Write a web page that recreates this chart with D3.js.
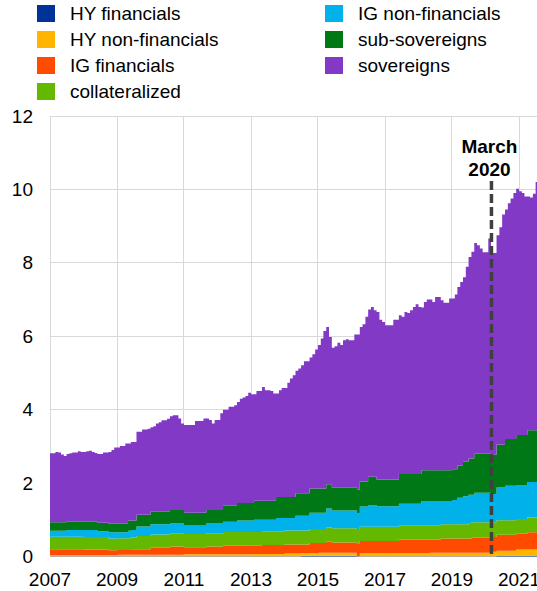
<!DOCTYPE html>
<html>
<head>
<meta charset="utf-8">
<script src="https://cdn.jsdelivr.net/npm/d3@7"></script>
<style>
  body { margin: 0; background: #fff; }
  svg { display: block; font-family: "Liberation Sans", Arial, sans-serif; }
</style>
</head>
<body>
<svg id="chart" width="537" height="591"></svg>
<script>
// monthly holdings, EUR trillions, first value = January 2007
var startMonth = new Date(2007, 0, 1);

var hyFinancials = [
  .01,.01,.01,.01,.01,.01,.01,.01,.01,.01,.01,.01, // 2007
  .01,.01,.01,.01,.01,.01,.01,.01,.01,.01,.01,.01, // 2008
  .01,.01,.01,.01,.01,.01,.01,.01,.01,.01,.01,.01, // 2009
  .01,.01,.01,.01,.01,.01,.01,.01,.01,.01,.01,.01, // 2010
  .01,.01,.01,.01,.01,.01,.01,.01,.01,.01,.01,.01, // 2011
  .01,.01,.01,.01,.01,.01,.01,.01,.01,.01,.01,.01, // 2012
  .01,.01,.01,.01,.01,.01,.01,.01,.01,.01,.01,.01, // 2013
  .01,.01,.01,.01,.01,.01,.02,.02,.02,.02,.02,.02, // 2014
  .02,.02,.02,.02,.02,.02,.02,.02,.02,.02,.02,.02, // 2015
  .02,.02,0,.01,.01,.01,.01,.01,.01,.01,.01,.01,   // 2016
  .01,.01,.01,.01,.01,.01,.01,.01,.01,.01,.01,.01, // 2017
  .01,.01,.01,.01,.01,.01,.01,.01,.01,.01,.01,.01, // 2018
  .01,.01,.01,.01,.01,.01,.01,.01,.01,.01,.01,.01, // 2019
  .01,.01,.01,.01,.02,.02,.02,.02,.02,.02,.02,.02, // 2020
  .02,.02,.02,.02,.02,.02,.02                      // 2021
];

var hyNonFinancials = [
  .03,.03,.03,.03,.03,.03,.03,.03,.03,.03,.03,.03,
  .03,.03,.03,.03,.03,.03,.03,.03,.03,.03,.03,.03,
  .04,.04,.04,.04,.04,.04,.04,.04,.04,.04,.04,.04,
  .04,.04,.04,.04,.04,.04,.04,.04,.04,.04,.04,.04,
  .05,.05,.05,.05,.05,.05,.05,.05,.05,.05,.05,.05,
  .05,.05,.05,.05,.05,.05,.05,.05,.05,.05,.05,.05,
  .06,.06,.06,.06,.06,.06,.06,.06,.06,.06,.06,.06,
  .07,.07,.07,.07,.07,.07,.07,.07,.07,.07,.07,.07,
  .08,.08,.08,.08,.08,.08,.08,.08,.08,.08,.08,.08,
  .08,.08,0,.08,.08,.08,.08,.08,.08,.08,.08,.08,
  .08,.08,.08,.08,.08,.08,.08,.08,.08,.08,.08,.08,
  .08,.08,.08,.08,.09,.09,.09,.09,.09,.09,.09,.09,
  .09,.09,.09,.09,.09,.09,.09,.09,.09,.09,.09,.09,
  .09,.09,.12,.12,.14,.14,.14,.14,.14,.14,.14,.17,
  .17,.17,.17,.17,.17,.17,.17
];

var igFinancials = [
  .16,.16,.16,.16,.16,.16,.16,.16,.16,.16,.16,.16,
  .15,.15,.15,.15,.15,.15,.15,.15,.15,.13,.13,.13,
  .13,.13,.13,.13,.13,.15,.15,.15,.15,.15,.15,.15,
  .19,.19,.19,.19,.19,.19,.19,.22,.22,.22,.22,.22,
  .19,.19,.19,.19,.19,.19,.19,.19,.21,.21,.21,.21,
  .21,.21,.23,.23,.23,.23,.23,.23,.23,.23,.23,.23,
  .22,.22,.22,.22,.24,.24,.24,.24,.24,.24,.24,.24,
  .25,.25,.25,.25,.25,.25,.24,.24,.24,.28,.28,.28,
  .27,.27,.27,.30,.30,.28,.28,.28,.28,.28,.28,.28,
  .28,.28,.36,.33,.33,.33,.33,.33,.33,.33,.33,.33,
  .33,.33,.33,.33,.33,.37,.37,.37,.37,.37,.37,.37,
  .37,.37,.37,.37,.36,.36,.36,.36,.39,.39,.39,.39,
  .39,.39,.39,.39,.39,.39,.39,.41,.41,.41,.41,.41,
  .41,.41,.40,.40,.43,.43,.43,.43,.43,.43,.43,.43,
  .43,.43,.43,.47,.47,.47,.47
];

var collateralized = [
  .34,.34,.34,.34,.34,.34,.34,.34,.34,.34,.34,.34,
  .34,.34,.34,.34,.34,.34,.34,.34,.34,.32,.32,.32,
  .32,.32,.32,.32,.32,.32,.32,.36,.36,.36,.36,.36,
  .36,.36,.36,.36,.36,.36,.36,.36,.36,.36,.36,.36,
  .36,.36,.36,.36,.36,.36,.36,.36,.36,.36,.36,.36,
  .36,.36,.38,.38,.38,.38,.38,.38,.38,.38,.38,.38,
  .38,.38,.38,.38,.38,.38,.38,.38,.38,.38,.38,.38,
  .38,.38,.38,.38,.38,.38,.38,.38,.38,.38,.38,.38,
  .38,.38,.38,.39,.39,.39,.39,.39,.39,.39,.39,.39,
  .39,.39,.36,.39,.39,.39,.39,.39,.39,.39,.39,.39,
  .39,.39,.39,.39,.39,.39,.39,.39,.39,.39,.39,.39,
  .39,.39,.39,.39,.39,.39,.39,.39,.39,.39,.39,.39,
  .39,.39,.39,.39,.39,.39,.42,.42,.42,.42,.42,.42,
  .42,.42,.40,.40,.40,.40,.40,.40,.40,.40,.40,.40,
  .40,.40,.40,.40,.40,.40,.40
];

var igNonFinancials = [
  .16,.16,.16,.16,.16,.16,.18,.18,.18,.18,.18,.18,
  .19,.19,.19,.19,.19,.16,.16,.16,.16,.17,.17,.17,
  .16,.16,.16,.16,.20,.20,.20,.26,.26,.26,.26,.26,
  .28,.28,.28,.28,.28,.28,.28,.27,.27,.27,.27,.27,
  .25,.25,.25,.25,.25,.25,.25,.25,.27,.27,.27,.27,
  .27,.27,.28,.28,.28,.28,.28,.31,.31,.31,.31,.31,
  .31,.33,.33,.33,.31,.31,.31,.31,.31,.36,.36,.36,
  .34,.34,.34,.34,.40,.40,.40,.40,.40,.44,.44,.44,
  .44,.44,.44,.52,.52,.48,.48,.48,.48,.48,.48,.48,
  .48,.48,.46,.55,.55,.55,.59,.59,.59,.56,.56,.56,
  .56,.56,.56,.56,.56,.59,.59,.59,.59,.59,.59,.59,
  .59,.66,.66,.66,.66,.66,.66,.66,.63,.63,.63,.63,
  .66,.66,.72,.72,.76,.76,.77,.75,.81,.81,.81,.81,
  .81,.81,.77,.77,.89,.89,.89,.94,.94,.94,.94,.93,
  .93,.93,.93,.97,.97,.97,.97
];

var subSovereigns = [
  .23,.23,.23,.23,.23,.23,.23,.23,.23,.23,.23,.23,
  .23,.23,.23,.23,.23,.23,.23,.23,.23,.23,.23,.23,
  .23,.23,.23,.23,.28,.26,.26,.32,.32,.32,.32,.32,
  .34,.34,.34,.34,.34,.34,.34,.37,.37,.37,.37,.37,
  .33,.33,.33,.33,.33,.33,.33,.33,.37,.37,.37,.37,
  .37,.37,.43,.43,.43,.43,.43,.48,.48,.48,.48,.48,
  .48,.52,.52,.52,.52,.52,.52,.52,.52,.57,.57,.57,
  .57,.57,.57,.57,.61,.61,.61,.61,.61,.66,.66,.66,
  .66,.66,.66,.66,.66,.62,.62,.62,.62,.62,.62,.62,
  .62,.62,.64,.68,.68,.68,.77,.77,.77,.73,.73,.73,
  .73,.73,.73,.73,.73,.81,.81,.81,.81,.81,.81,.81,
  .81,.84,.84,.84,.84,.84,.84,.84,.84,.84,.84,.84,
  .84,.84,.88,.88,.94,.94,.99,.99,1.06,1.06,1.06,1.06,
  1.06,1.06,1.07,1.07,1.17,1.17,1.17,1.27,1.27,1.27,1.27,1.36,
  1.36,1.36,1.36,1.41,1.41,1.41,1.41
];

var sovereigns = [
  1.88,1.88,1.92,1.90,1.85,1.81,1.84,1.86,1.88,1.88,1.92,1.90,
  1.90,1.92,1.93,1.90,1.87,1.87,1.87,1.91,1.91,1.96,2.01,2.08,
  2.08,2.12,2.12,2.19,2.10,2.14,2.14,2.26,2.26,2.32,2.32,2.34,
  2.30,2.33,2.40,2.44,2.49,2.49,2.53,2.55,2.58,2.58,2.49,2.35,
  2.39,2.39,2.39,2.39,2.50,2.50,2.50,2.57,2.49,2.45,2.35,2.45,
  2.45,2.63,2.62,2.62,2.70,2.70,2.74,2.75,2.84,2.87,2.91,3.00,
  2.96,2.90,2.99,2.99,3.10,3.01,3.01,2.99,2.92,2.82,2.91,2.97,
  2.97,3.11,3.23,3.32,3.34,3.40,3.49,3.60,3.60,3.57,3.66,3.79,
  3.91,4.09,4.29,4.28,4.01,3.82,3.86,3.95,3.89,4.02,4.05,4.02,
  4.02,4.18,4.23,4.21,4.29,4.49,4.56,4.63,4.54,4.56,4.35,4.29,
  4.20,4.20,4.20,4.35,4.35,4.32,4.28,4.41,4.38,4.46,4.55,4.62,
  4.55,4.43,4.58,4.65,4.65,4.58,4.72,4.72,4.63,4.56,4.56,4.68,
  4.65,4.76,4.86,5.00,5.03,5.31,5.49,5.63,5.74,5.68,5.59,5.49,
  5.49,5.86,5.50,5.50,5.70,5.92,6.27,6.25,6.42,6.55,6.70,6.71,
  6.64,6.59,6.50,6.37,6.34,6.44,6.76
];

// stacking order, bottom to top
var seriesKeys = ['hyFin', 'hyNonFin', 'igFin', 'coll', 'igNonFin', 'subSov', 'sov'];
var seriesValues = [hyFinancials, hyNonFinancials, igFinancials, collateralized, igNonFinancials, subSovereigns, sovereigns];
var seriesLabels = ['HY financials', 'HY non-financials', 'IG financials', 'collateralized',
                    'IG non-financials', 'sub-sovereigns', 'sovereigns'];
var seriesColors = ['#003299', '#ffb400', '#ff4b00', '#65b800', '#00b1ea', '#007816', '#8139c6'];

var yTicks = [0, 2, 4, 6, 8, 10, 12];
var xTickYears = [2007, 2009, 2011, 2013, 2015, 2017, 2019, 2021];
var eventDate = new Date(2020, 2, 1);
var eventLabel = ['March', '2020'];

var svg = d3.select('#chart');

var x = d3.scaleTime()
    .domain([startMonth, new Date(2021, 6, 16)])
    .range([50, 537]);
var y = d3.scaleLinear()
    .domain([0, 12])
    .range([556.5, 116]);

function snap(v) { return Math.round(v - 0.5) + 0.5; }

// rows for d3.stack, plus one closing row so the last step has a width
var rows = sovereigns.map(function (v, i) {
    var r = { date: d3.timeMonth.offset(startMonth, i) };
    seriesKeys.forEach(function (k, j) { r[k] = seriesValues[j][i]; });
    return r;
});
var closing = Object.assign({}, rows[rows.length - 1]);
closing.date = d3.timeMonth.offset(startMonth, rows.length);
rows.push(closing);

var stacked = d3.stack().keys(seriesKeys)(rows);

// grid
var grid = svg.append('g').attr('stroke', '#d9d9d9').attr('stroke-width', 1);
grid.selectAll('.h').data(yTicks).enter().append('line')
    .attr('x1', 50).attr('x2', 537)
    .attr('y1', function (d) { return snap(y(d)); })
    .attr('y2', function (d) { return snap(y(d)); });
grid.selectAll('.v').data(xTickYears).enter().append('line')
    .attr('x1', function (d) { return snap(x(new Date(d, 0, 1))); })
    .attr('x2', function (d) { return snap(x(new Date(d, 0, 1))); })
    .attr('y1', y(12)).attr('y2', y(0));

var area = d3.area()
    .curve(d3.curveStepAfter)
    .x(function (d) { return x(d.data.date); })
    .y0(function (d) { return y(d[0]); })
    .y1(function (d) { return y(d[1]); });

svg.append('g').selectAll('path').data(stacked).enter().append('path')
    .attr('fill', function (d, i) { return seriesColors[i]; })
    .attr('d', area);

// axis labels
svg.append('g').selectAll('text').data(yTicks).enter().append('text')
    .attr('x', 33)
    .attr('y', function (d) { return y(d); })
    .attr('dy', '0.35em')
    .attr('text-anchor', 'end')
    .attr('font-size', 19)
    .attr('fill', '#000')
    .text(function (d) { return d; });

svg.append('g').selectAll('text').data(xTickYears).enter().append('text')
    .attr('x', function (d) { return x(new Date(d, 0, 1)); })
    .attr('y', 579)
    .attr('dy', '0.35em')
    .attr('text-anchor', 'middle')
    .attr('font-size', 19)
    .attr('fill', '#000')
    .text(function (d) { return d; });

// March 2020 marker
var ex = x(eventDate) + 0.5;
svg.append('line')
    .attr('x1', ex).attr('x2', ex)
    .attr('y1', 181).attr('y2', y(0))
    .attr('stroke', '#404040')
    .attr('stroke-width', 3.5)
    .attr('stroke-dasharray', '9,4');

svg.append('text')
    .attr('x', ex - 2)
    .attr('text-anchor', 'middle')
    .attr('font-size', 19)
    .attr('font-weight', 'bold')
    .attr('fill', '#000')
    .selectAll('tspan').data(eventLabel).enter().append('tspan')
        .attr('x', ex - 2)
        .attr('y', function (d, i) { return 153 + i * 22.5; })
        .text(function (d) { return d; });

// legend, two columns
var legendItems = seriesLabels.map(function (l, i) {
    var col = i < 4 ? 0 : 1;
    var row = i < 4 ? i : i - 4;
    return { label: l, color: seriesColors[i], col: col, row: row };
});

var legend = svg.append('g').selectAll('g').data(legendItems).enter().append('g')
    .attr('transform', function (d) {
        return 'translate(' + (d.col ? 325 : 37) + ',' + (5 + d.row * 26) + ')';
    });
legend.append('rect')
    .attr('width', 18).attr('height', 17)
    .attr('fill', function (d) { return d.color; });
legend.append('text')
    .attr('x', 33)
    .attr('y', 8.5)
    .attr('dy', '0.35em')
    .attr('font-size', 19)
    .attr('fill', '#000')
    .text(function (d) { return d.label; });
</script>
</body>
</html>
